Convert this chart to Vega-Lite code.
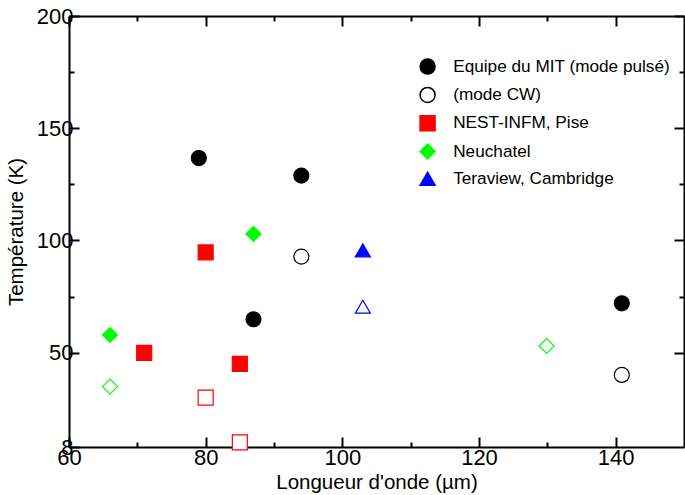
{
  "$schema": "https://vega.github.io/schema/vega-lite/v6.json",
  "width": 615,
  "height": 431,
  "autosize": {"type": "none"},
  "padding": {"left": 69, "top": 16, "right": 1, "bottom": 48},
  "config": {
    "view": {"stroke": null},
    "font": "Liberation Sans",
    "axis": {
      "grid": false,
      "labelFont": "Liberation Sans",
      "labelFontSize": 22,
      "labelColor": "black",
      "labelFlush": false,
      "titleFont": "Liberation Sans",
      "titleFontSize": 20.5,
      "titleFontWeight": "normal",
      "titleColor": "black",
      "domainColor": "black",
      "domainWidth": 2,
      "tickColor": "black",
      "tickWidth": 2
    },
    "legend": {
      "labelFont": "Liberation Sans",
      "labelFontSize": 17.2,
      "labelColor": "black",
      "labelLimit": 0
    }
  },
  "data": {
    "values": [
      {"x": 79, "y": 136.7, "group": "Equipe du MIT (mode pulsé)", "open": false},
      {"x": 94, "y": 128.9, "group": "Equipe du MIT (mode pulsé)", "open": false},
      {"x": 87, "y": 64.9, "group": "Equipe du MIT (mode pulsé)", "open": false},
      {"x": 140.9, "y": 72, "group": "Equipe du MIT (mode pulsé)", "open": false},
      {"x": 94, "y": 92.8, "group": "(mode CW)", "open": false},
      {"x": 140.9, "y": 40.1, "group": "(mode CW)", "open": false},
      {"x": 80, "y": 94.7, "group": "NEST-INFM, Pise", "open": false},
      {"x": 71, "y": 49.9, "group": "NEST-INFM, Pise", "open": false},
      {"x": 85, "y": 45, "group": "NEST-INFM, Pise", "open": false},
      {"x": 80, "y": 30, "group": "NEST-INFM, Pise", "open": true},
      {"x": 85, "y": 10.1, "group": "NEST-INFM, Pise", "open": true},
      {"x": 66, "y": 57.9, "group": "Neuchatel", "open": false},
      {"x": 87, "y": 102.9, "group": "Neuchatel", "open": false},
      {"x": 66, "y": 34.9, "group": "Neuchatel", "open": true},
      {"x": 129.9, "y": 53, "group": "Neuchatel", "open": true},
      {"x": 103, "y": 95.6, "group": "Teraview, Cambridge", "open": false},
      {"x": 103, "y": 70.5, "group": "Teraview, Cambridge", "open": true}
    ]
  },
  "layer": [
    {
      "mark": {"type": "point", "filled": true, "opacity": 1, "strokeWidth": 1.2},
      "encoding": {
        "x": {
          "field": "x", "type": "quantitative",
          "scale": {"domain": [60, 150], "nice": false, "zero": false},
          "axis": {"orient": "bottom", "values": [60, 80, 100, 120, 140], "tickSize": -10, "labelPadding": 10, "title": "Longueur d'onde (µm)", "titlePadding": 4}
        },
        "y": {
          "field": "y", "type": "quantitative",
          "scale": {"domain": [8, 200], "nice": false, "zero": false},
          "axis": {"orient": "left", "values": [8, 50, 100, 150, 200], "tickSize": -10, "labelPadding": 6, "title": "Température (K)", "titlePadding": 10}
        },
        "shape": {
          "field": "group", "type": "nominal",
          "scale": {"domain": ["Equipe du MIT (mode pulsé)", "(mode CW)", "NEST-INFM, Pise", "Neuchatel", "Teraview, Cambridge"], "range": ["circle", "circle", "square", "diamond", "triangle-up"]},
          "legend": {"title": null, "orient": "none", "legendX": 350, "legendY": 42, "symbolStrokeWidth": 1.5, "labelOffset": 17, "rowPadding": 6.3, "padding": 0, "labelLimit": 0}
        },
        "fill": {
          "condition": {"test": "datum.open", "value": "white"},
          "field": "group", "type": "nominal",
          "scale": {"domain": ["Equipe du MIT (mode pulsé)", "(mode CW)", "NEST-INFM, Pise", "Neuchatel", "Teraview, Cambridge"], "range": ["black", "white", "red", "#00ff00", "blue"]},
          "legend": {"title": null, "orient": "none", "legendX": 350, "legendY": 42, "symbolStrokeWidth": 1.5, "labelOffset": 17, "rowPadding": 6.3, "padding": 0, "labelLimit": 0}
        },
        "stroke": {
          "field": "group", "type": "nominal",
          "scale": {"domain": ["Equipe du MIT (mode pulsé)", "(mode CW)", "NEST-INFM, Pise", "Neuchatel", "Teraview, Cambridge"], "range": ["black", "black", "red", "#00ff00", "blue"]},
          "legend": {"title": null, "orient": "none", "legendX": 350, "legendY": 42, "symbolStrokeWidth": 1.5, "labelOffset": 17, "rowPadding": 6.3, "padding": 0, "labelLimit": 0}
        },
        "size": {
          "field": "group", "type": "nominal",
          "scale": {"domain": ["Equipe du MIT (mode pulsé)", "(mode CW)", "NEST-INFM, Pise", "Neuchatel", "Teraview, Cambridge"], "range": [225, 225, 169, 205, 220]},
          "legend": {"title": null, "orient": "none", "legendX": 350, "legendY": 42, "symbolStrokeWidth": 1.5, "labelOffset": 17, "rowPadding": 6.3, "padding": 0, "labelLimit": 0}
        }
      }
    },
    {
      "mark": {"type": "point", "opacity": 0},
      "encoding": {
        "x": {"field": "x", "type": "quantitative", "axis": {"orient": "bottom", "values": [70, 90, 110, 130], "tickSize": -5, "labels": false, "domain": false, "title": null}},
        "y": {"field": "y", "type": "quantitative", "axis": {"orient": "left", "values": [75, 125, 175], "tickSize": -5, "labels": false, "domain": false, "title": null}}
      }
    },
    {
      "mark": {"type": "point", "opacity": 0},
      "encoding": {
        "x": {"field": "x", "type": "quantitative", "axis": {"orient": "top", "values": [60, 80, 100, 120, 140], "tickSize": -10, "labels": false, "title": null}},
        "y": {"field": "y", "type": "quantitative", "axis": {"orient": "right", "values": [50, 100, 150, 200], "tickSize": -10, "labels": false, "title": null}}
      }
    },
    {
      "mark": {"type": "point", "opacity": 0},
      "encoding": {
        "x": {"field": "x", "type": "quantitative", "axis": {"orient": "top", "values": [70, 90, 110, 130], "tickSize": -5, "labels": false, "domain": false, "title": null}},
        "y": {"field": "y", "type": "quantitative", "axis": {"orient": "right", "values": [75, 125, 175], "tickSize": -5, "labels": false, "domain": false, "title": null}}
      }
    }
  ],
  "resolve": {"axis": {"x": "independent", "y": "independent"}}
}
